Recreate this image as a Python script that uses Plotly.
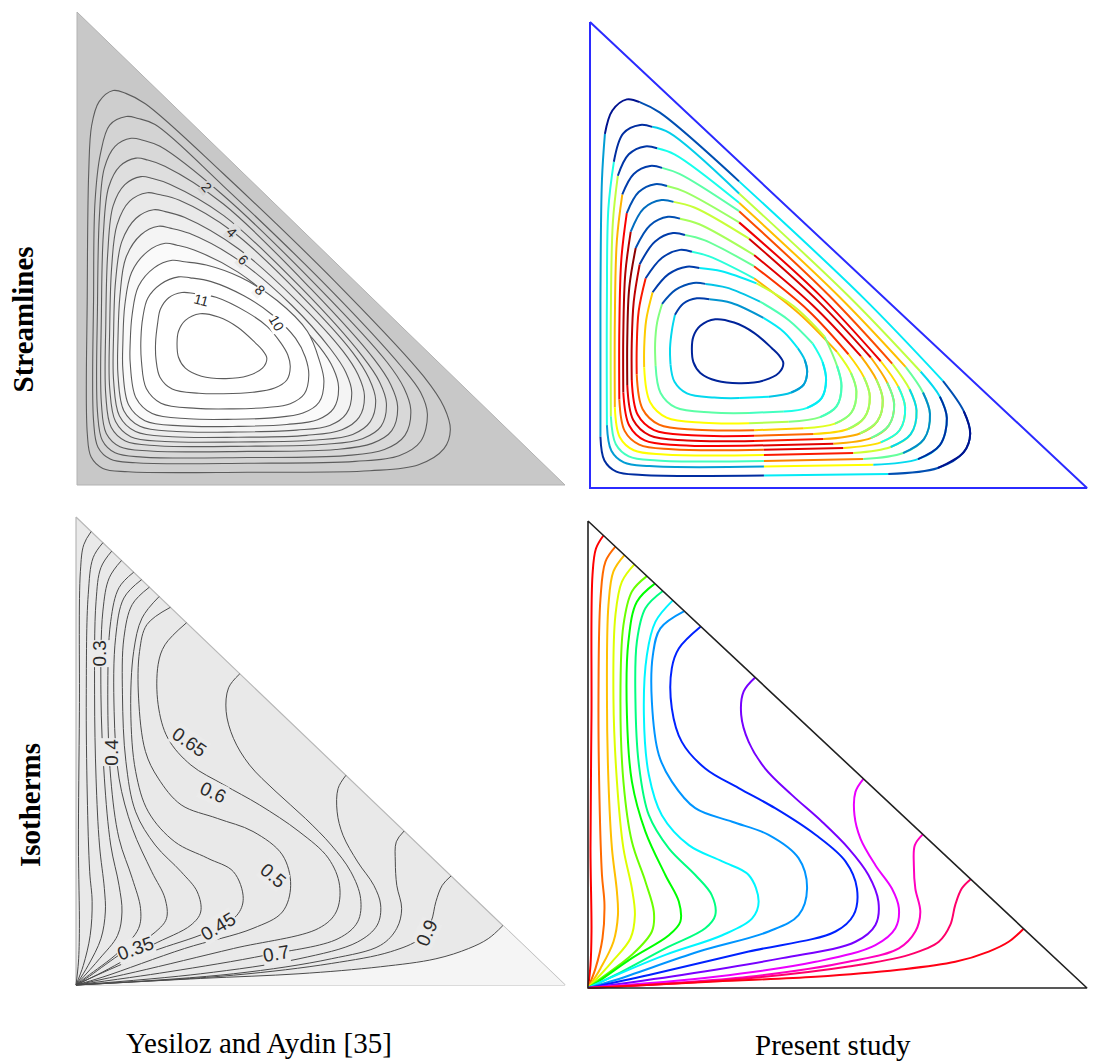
import plotly.graph_objects as go
from plotly.colors import sample_colorscale

# ---------------- data (cavity coordinates, fractions of width / height) ----------------
cavity_x = [0.0, 0.0, 1.0, 0.0]
cavity_y = [1.0, 0.0, 0.0, 1.0]

# streamlines, outermost -> inner; 20 stations each:
# left(3), bottom-left corner(3), bottom(2), tip(5), hypotenuse side(2), apex(5)
stream_x = [
    [0.024, 0.021, 0.021, 0.029, 0.053, 0.105, 0.35, 0.60, 0.70, 0.752, 0.765, 0.752, 0.71, 0.55, 0.30, 0.14, 0.10, 0.074, 0.045, 0.030],
    [0.037, 0.034, 0.034, 0.043, 0.068, 0.12, 0.35, 0.57, 0.66, 0.704, 0.718, 0.704, 0.665, 0.52, 0.30, 0.16, 0.125, 0.101, 0.067, 0.048],
    [0.046, 0.042, 0.042, 0.052, 0.078, 0.135, 0.35, 0.55, 0.63, 0.672, 0.684, 0.670, 0.635, 0.50, 0.30, 0.17, 0.135, 0.111, 0.078, 0.056],
    [0.054, 0.050, 0.050, 0.060, 0.088, 0.15, 0.35, 0.53, 0.605, 0.645, 0.657, 0.643, 0.608, 0.48, 0.30, 0.18, 0.145, 0.121, 0.088, 0.065],
    [0.063, 0.059, 0.059, 0.070, 0.099, 0.165, 0.35, 0.51, 0.585, 0.623, 0.634, 0.620, 0.585, 0.46, 0.30, 0.19, 0.155, 0.131, 0.098, 0.074],
    [0.071, 0.067, 0.067, 0.079, 0.110, 0.18, 0.33, 0.49, 0.565, 0.601, 0.612, 0.598, 0.565, 0.46, 0.32, 0.21, 0.168, 0.144, 0.108, 0.082],
    [0.079, 0.075, 0.075, 0.087, 0.120, 0.195, 0.33, 0.47, 0.543, 0.578, 0.589, 0.576, 0.545, 0.45, 0.33, 0.22, 0.181, 0.157, 0.121, 0.092],
    [0.088, 0.084, 0.084, 0.096, 0.129, 0.204, 0.33, 0.45, 0.518, 0.552, 0.563, 0.551, 0.52, 0.44, 0.33, 0.23, 0.191, 0.167, 0.131, 0.100],
    [0.098, 0.094, 0.094, 0.106, 0.139, 0.214, 0.33, 0.43, 0.493, 0.526, 0.536, 0.525, 0.497, 0.42, 0.33, 0.24, 0.205, 0.181, 0.145, 0.112],
    [0.113, 0.109, 0.109, 0.121, 0.154, 0.229, 0.32, 0.40, 0.463, 0.496, 0.506, 0.497, 0.472, 0.41, 0.335, 0.265, 0.22, 0.195, 0.158, 0.126],
    [0.135, 0.131, 0.132, 0.142, 0.172, 0.245, 0.32, 0.39, 0.437, 0.466, 0.475, 0.468, 0.448, 0.40, 0.342, 0.275, 0.232, 0.208, 0.172, 0.145],
    [0.165, 0.161, 0.162, 0.170, 0.195, 0.25, 0.30, 0.36, 0.405, 0.430, 0.437, 0.432, 0.418, 0.39, 0.349, 0.285, 0.240, 0.215, 0.188, 0.171],
]
stream_y = [
    [0.66, 0.40, 0.11, 0.059, 0.035, 0.028, 0.027, 0.030, 0.043, 0.077, 0.117, 0.165, 0.23, 0.408, 0.658, 0.806, 0.828, 0.834, 0.81, 0.76],
    [0.60, 0.40, 0.135, 0.080, 0.055, 0.047, 0.046, 0.050, 0.062, 0.092, 0.150, 0.196, 0.25, 0.412, 0.632, 0.762, 0.775, 0.779, 0.761, 0.70],
    [0.57, 0.38, 0.154, 0.094, 0.068, 0.059, 0.058, 0.062, 0.075, 0.105, 0.159, 0.205, 0.26, 0.412, 0.612, 0.716, 0.729, 0.733, 0.716, 0.67],
    [0.53, 0.36, 0.173, 0.109, 0.081, 0.072, 0.071, 0.075, 0.088, 0.115, 0.166, 0.212, 0.267, 0.414, 0.594, 0.674, 0.687, 0.691, 0.674, 0.63],
    [0.49, 0.34, 0.19, 0.122, 0.093, 0.083, 0.082, 0.086, 0.098, 0.124, 0.173, 0.218, 0.272, 0.416, 0.57, 0.636, 0.648, 0.652, 0.635, 0.59],
    [0.46, 0.33, 0.205, 0.134, 0.102, 0.092, 0.091, 0.095, 0.107, 0.134, 0.180, 0.226, 0.28, 0.40, 0.535, 0.602, 0.614, 0.618, 0.600, 0.55],
    [0.43, 0.32, 0.221, 0.146, 0.113, 0.102, 0.101, 0.105, 0.117, 0.143, 0.189, 0.233, 0.283, 0.39, 0.50, 0.566, 0.578, 0.582, 0.564, 0.515],
    [0.40, 0.31, 0.232, 0.157, 0.124, 0.113, 0.112, 0.116, 0.126, 0.151, 0.196, 0.238, 0.287, 0.38, 0.476, 0.532, 0.543, 0.547, 0.529, 0.48],
    [0.38, 0.30, 0.244, 0.169, 0.136, 0.125, 0.124, 0.128, 0.138, 0.162, 0.207, 0.247, 0.292, 0.375, 0.45, 0.497, 0.507, 0.511, 0.494, 0.45],
    [0.36, 0.30, 0.259, 0.184, 0.151, 0.140, 0.139, 0.142, 0.152, 0.175, 0.219, 0.262, 0.325, 0.39, 0.439, 0.465, 0.472, 0.475, 0.459, 0.42],
    [0.355, 0.31, 0.262, 0.204, 0.173, 0.162, 0.161, 0.164, 0.172, 0.193, 0.232, 0.27, 0.31, 0.36, 0.40, 0.43, 0.438, 0.440, 0.425, 0.395],
    [0.34, 0.30, 0.265, 0.228, 0.203, 0.194, 0.193, 0.196, 0.205, 0.222, 0.250, 0.275, 0.30, 0.335, 0.365, 0.397, 0.405, 0.407, 0.396, 0.372],
]
# relative speed along each streamline: left, bottom-left, bottom, tip, hypotenuse side, apex
stream_speed = [
    [0.30, 0.15, 0.38, 0.06, 0.38, 0.06],
    [0.42, 0.30, 0.60, 0.15, 0.55, 0.15],
    [0.55, 0.45, 0.70, 0.28, 0.65, 0.18],
    [0.66, 0.60, 0.78, 0.36, 0.74, 0.20],
    [0.80, 0.72, 0.84, 0.42, 0.82, 0.22],
    [0.92, 0.80, 0.84, 0.48, 0.86, 0.25],
    [0.98, 0.84, 0.78, 0.52, 0.84, 0.22],
    [0.90, 0.80, 0.72, 0.52, 0.76, 0.20],
    [0.78, 0.72, 0.64, 0.50, 0.66, 0.20],
    [0.64, 0.60, 0.54, 0.45, 0.56, 0.20],
    [0.50, 0.47, 0.45, 0.38, 0.46, 0.22],
    [0.36, 0.36, 0.38, 0.30, 0.38, 0.20],
]
core_x = [0.205, 0.208, 0.222, 0.255, 0.305, 0.35, 0.38, 0.389, 0.38, 0.366, 0.33, 0.29, 0.252, 0.222, 0.208, 0.205]
core_y = [0.30, 0.27, 0.247, 0.23, 0.225, 0.231, 0.247, 0.268, 0.285, 0.30, 0.333, 0.355, 0.362, 0.348, 0.325, 0.30]
core_speed = 0.12

stream_label_text = ["2", "4", "6", "8", "11", "10"]
stream_label_x = [0.266, 0.317, 0.341, 0.375, 0.255, 0.409]
stream_label_y = [0.631, 0.535, 0.475, 0.412, 0.391, 0.343]
stream_label_loop = [2, 4, 6, 8, 11, 10]
stream_label_angle = [50, 45, 45, 45, 15, 60]

# isotherms, from hypotenuse end to the bottom-left corner
iso_x = [
    [0.031, 0.016, 0.009, 0.007, 0.005, 0.007, 0.005, 0.0],
    [0.055, 0.035, 0.025, 0.021, 0.023, 0.028, 0.033, 0.029, 0.015, 0.0],
    [0.073, 0.051, 0.041, 0.038, 0.041, 0.048, 0.058, 0.060, 0.051, 0.025, 0.0],
    [0.093, 0.068, 0.055, 0.051, 0.058, 0.071, 0.088, 0.094, 0.085, 0.048, 0.0],
    [0.118, 0.088, 0.071, 0.065, 0.071, 0.088, 0.115, 0.132, 0.128, 0.088, 0.021, 0.0],
    [0.134, 0.098, 0.081, 0.078, 0.088, 0.115, 0.155, 0.182, 0.185, 0.162, 0.088, 0.021, 0.0],
    [0.150, 0.115, 0.098, 0.095, 0.102, 0.122, 0.162, 0.215, 0.248, 0.255, 0.235, 0.155, 0.055, 0.0],
    [0.170, 0.135, 0.118, 0.112, 0.122, 0.148, 0.202, 0.269, 0.322, 0.342, 0.329, 0.269, 0.155, 0.028, 0.0],
    [0.193, 0.145, 0.130, 0.128, 0.142, 0.168, 0.215, 0.289, 0.362, 0.422, 0.439, 0.422, 0.362, 0.222, 0.055, 0.0],
    [0.226, 0.182, 0.168, 0.168, 0.188, 0.235, 0.302, 0.375, 0.456, 0.516, 0.539, 0.532, 0.496, 0.322, 0.122, 0.0],
    [0.335, 0.312, 0.307, 0.322, 0.355, 0.409, 0.469, 0.522, 0.562, 0.582, 0.576, 0.536, 0.389, 0.188, 0.0],
    [0.552, 0.536, 0.534, 0.546, 0.576, 0.609, 0.623, 0.616, 0.576, 0.456, 0.255, 0.0],
    [0.671, 0.655, 0.653, 0.656, 0.666, 0.656, 0.623, 0.522, 0.322, 0.0],
    [0.767, 0.749, 0.736, 0.726, 0.703, 0.643, 0.522, 0.322, 0.0],
    [0.873, 0.843, 0.803, 0.736, 0.623, 0.456, 0.255, 0.0],
]
iso_y = [
    [0.969, 0.941, 0.884, 0.585, 0.299, 0.121, 0.049, 0.0],
    [0.945, 0.913, 0.834, 0.620, 0.406, 0.242, 0.178, 0.106, 0.042, 0.0],
    [0.927, 0.892, 0.820, 0.620, 0.442, 0.299, 0.206, 0.156, 0.099, 0.042, 0.0],
    [0.907, 0.870, 0.799, 0.620, 0.442, 0.299, 0.213, 0.156, 0.106, 0.056, 0.0],
    [0.882, 0.849, 0.777, 0.620, 0.442, 0.313, 0.228, 0.163, 0.121, 0.071, 0.017, 0.0],
    [0.866, 0.827, 0.742, 0.585, 0.442, 0.335, 0.242, 0.185, 0.142, 0.113, 0.064, 0.014, 0.0],
    [0.850, 0.813, 0.742, 0.620, 0.478, 0.370, 0.299, 0.242, 0.199, 0.156, 0.128, 0.085, 0.028, 0.0],
    [0.830, 0.784, 0.713, 0.585, 0.456, 0.370, 0.306, 0.271, 0.242, 0.185, 0.149, 0.113, 0.071, 0.014, 0.0],
    [0.807, 0.770, 0.713, 0.613, 0.499, 0.442, 0.385, 0.356, 0.328, 0.278, 0.213, 0.156, 0.121, 0.078, 0.017, 0.0],
    [0.774, 0.727, 0.685, 0.599, 0.527, 0.470, 0.428, 0.385, 0.328, 0.271, 0.213, 0.156, 0.121, 0.078, 0.028, 0.0],
    [0.665, 0.635, 0.585, 0.527, 0.470, 0.413, 0.356, 0.299, 0.242, 0.185, 0.135, 0.099, 0.064, 0.028, 0.0],
    [0.448, 0.420, 0.370, 0.320, 0.263, 0.213, 0.171, 0.128, 0.092, 0.056, 0.024, 0.0],
    [0.329, 0.306, 0.263, 0.213, 0.163, 0.121, 0.085, 0.056, 0.024, 0.0],
    [0.233, 0.213, 0.178, 0.135, 0.099, 0.071, 0.046, 0.021, 0.0],
    [0.127, 0.099, 0.078, 0.056, 0.039, 0.024, 0.014, 0.0],
]

iso_label_text = ["0.3", "0.4", "0.65", "0.6", "0.5", "0.45", "0.35", "0.7", "0.9"]
iso_label_x = [0.049, 0.073, 0.233, 0.281, 0.403, 0.291, 0.121, 0.410, 0.717]
iso_label_y = [0.708, 0.498, 0.519, 0.412, 0.234, 0.124, 0.078, 0.067, 0.110]
iso_label_angle = [-90, -90, 35, 24, 40, -31, -20, -10, -65]

row_titles = ["Streamlines", "Isotherms"]
col_titles = ["Yesiloz and Aydin [35]", "Present study"]

# ---------------- layout / style ----------------
W, H = 1093, 1061
PAD = 0.01
PANELS = [  # left, top, right, bottom in pixels
    (77, 12, 565, 485),    # streamlines, reference
    (590, 22, 1087, 488),  # streamlines, present
    (76, 517, 565, 985),   # isotherms, reference
    (588, 521, 1087, 988), # isotherms, present
]
ISO_HUES = [0, 25, 45, 68, 95, 120, 150, 182, 205, 232, 268, 295, 315, 335, 355]

fig = go.Figure()
layout_axes = {}
for i, (l, t, r, b) in enumerate(PANELS):
    w, h = r - l, b - t
    dx = [(l - PAD * w) / W, (r + PAD * w) / W]
    dy = [1 - (b + PAD * h) / H, 1 - (t - PAD * h) / H]
    sfx = "" if i == 0 else str(i + 1)
    common = dict(range=[-PAD, 1 + PAD], visible=False, fixedrange=True,
                  showgrid=False, zeroline=False)
    layout_axes["xaxis" + sfx] = dict(domain=dx, anchor="y" + sfx, **common)
    layout_axes["yaxis" + sfx] = dict(domain=dy, anchor="x" + sfx, **common)

AX = [("x", "y"), ("x2", "y2"), ("x3", "y3"), ("x4", "y4")]


def add(trace, panel):
    trace.update(xaxis=AX[panel][0], yaxis=AX[panel][1], showlegend=False,
                 hoverinfo="skip")
    fig.add_trace(trace)


def jet(v):
    return sample_colorscale("Jet", [min(max(v, 0.0), 1.0)])[0]


def grey(g):
    g = int(round(min(255, g)))
    return f"rgb({g},{g},{g})"


# ---- panel 0: reference streamlines (grey filled) ----
add(go.Scatter(x=cavity_x, y=cavity_y, mode="lines", fill="toself",
               fillcolor="#c8c8c8", line=dict(color="#b2b2b2", width=1)), 0)
n_loops = len(stream_x)
loop_grey = [200 + 5.5 * (k + 1) for k in range(n_loops + 1)]
order = list(range(1, 20)) + [0, 1]
for k in range(n_loops):
    add(go.Scatter(x=[stream_x[k][i] for i in order], y=[stream_y[k][i] for i in order],
                   mode="lines", fill="toself", fillcolor=grey(loop_grey[k]),
                   line=dict(color="#5c5c5c", width=1.1, shape="spline")), 0)
add(go.Scatter(x=core_x, y=core_y, mode="lines", fill="toself", fillcolor="#ffffff",
               line=dict(color="#5c5c5c", width=1.1, shape="spline")), 0)

# ---- panel 1: present streamlines (coloured by speed) ----
BASE_ARCS = [(19, 0, 1, 2), (2, 3, 4, 5, 6), (6, 7), (7, 8, 9, 10, 11, 12),
             (12, 13, 14), (14, 15, 16), (16, 17, 18, 19)]
OVER_ARCS = [(8, 9, 10, 11)]
for k in range(n_loops):
    s = stream_speed[k]
    base_c = [s[0], s[1], s[2], (2 * s[3] + s[2] + s[4]) / 4, s[4],
              (s[4] + s[5]) / 2, s[5]]
    for arc, sp in zip(BASE_ARCS, base_c):
        add(go.Scatter(x=[stream_x[k][i] for i in arc], y=[stream_y[k][i] for i in arc],
                       mode="lines", line=dict(color=jet(sp), width=2, shape="spline")), 1)
    for arc, sp in zip(OVER_ARCS, [s[3]]):
        add(go.Scatter(x=[stream_x[k][i] for i in arc], y=[stream_y[k][i] for i in arc],
                       mode="lines", line=dict(color=jet(sp), width=2, shape="spline")), 1)
add(go.Scatter(x=core_x, y=core_y, mode="lines",
               line=dict(color=jet(core_speed), width=2, shape="spline")), 1)
add(go.Scatter(x=cavity_x, y=cavity_y, mode="lines",
               line=dict(color="#2b2bff", width=2)), 1)

# ---- panel 2: reference isotherms ----
add(go.Scatter(x=cavity_x, y=cavity_y, mode="lines", fill="toself",
               fillcolor="#e9e9e9", line=dict(color="#b8b8b8", width=1.2)), 2)
add(go.Scatter(x=iso_x[-1] + [1.0, iso_x[-1][0]], y=iso_y[-1] + [0.0, iso_y[-1][0]],
               mode="lines", fill="toself", fillcolor="#f5f5f5",
               line=dict(width=0)), 2)
for k in range(len(iso_x)):
    add(go.Scatter(x=iso_x[k], y=iso_y[k], mode="lines",
                   line=dict(color="#4a4a4a", width=1, shape="spline")), 2)

# ---- panel 3: present isotherms ----
for k in range(len(iso_x)):
    add(go.Scatter(x=iso_x[k], y=iso_y[k], mode="lines",
                   line=dict(color=f"hsl({ISO_HUES[k]},100%,50%)", width=2,
                             shape="spline")), 3)
add(go.Scatter(x=cavity_x, y=cavity_y, mode="lines",
               line=dict(color="#222222", width=1.6)), 3)

annotations = []
for t, x, y, lp, a in zip(stream_label_text, stream_label_x, stream_label_y,
                          stream_label_loop, stream_label_angle):
    annotations.append(dict(text=t, x=x, y=y, xref="x", yref="y", showarrow=False,
                            textangle=a, bgcolor=grey(loop_grey[lp - 1]), borderpad=0,
                            xanchor="center", yanchor="middle",
                            font=dict(family="Liberation Sans", size=14, color="#2a2a2a")))
for t, x, y, a in zip(iso_label_text, iso_label_x, iso_label_y, iso_label_angle):
    annotations.append(dict(text=t, x=x, y=y, xref="x3", yref="y3", showarrow=False,
                            textangle=a, bgcolor="#ebebeb", borderpad=0,
                            xanchor="center", yanchor="middle",
                            font=dict(family="Liberation Sans", size=19, color="#2a2a2a")))

title_font = dict(family="Liberation Serif", size=29, color="black")
title_pos = [(22.5, 320), (30, 805)]
for t, (px, py) in zip(row_titles, title_pos):
    annotations.append(dict(text="<b>%s</b>" % t, x=px / W, y=1 - py / H,
                            xref="paper", yref="paper", showarrow=False, textangle=-90,
                            xanchor="center", yanchor="middle", font=title_font))
cap_pos = [(259, 1043), (833, 1045)]
for t, (px, py) in zip(col_titles, cap_pos):
    annotations.append(dict(text=t, x=px / W, y=1 - py / H,
                            xref="paper", yref="paper", showarrow=False,
                            xanchor="center", yanchor="middle", font=title_font))

fig.update_layout(width=W, height=H, margin=dict(l=0, r=0, t=0, b=0, pad=0),
                  paper_bgcolor="white", plot_bgcolor="rgba(0,0,0,0)",
                  annotations=annotations, **layout_axes)
fig.write_html("out.html", config={"displayModeBar": False},
               post_script="document.body.style.margin='0px';document.body.style.overflow='hidden';")
